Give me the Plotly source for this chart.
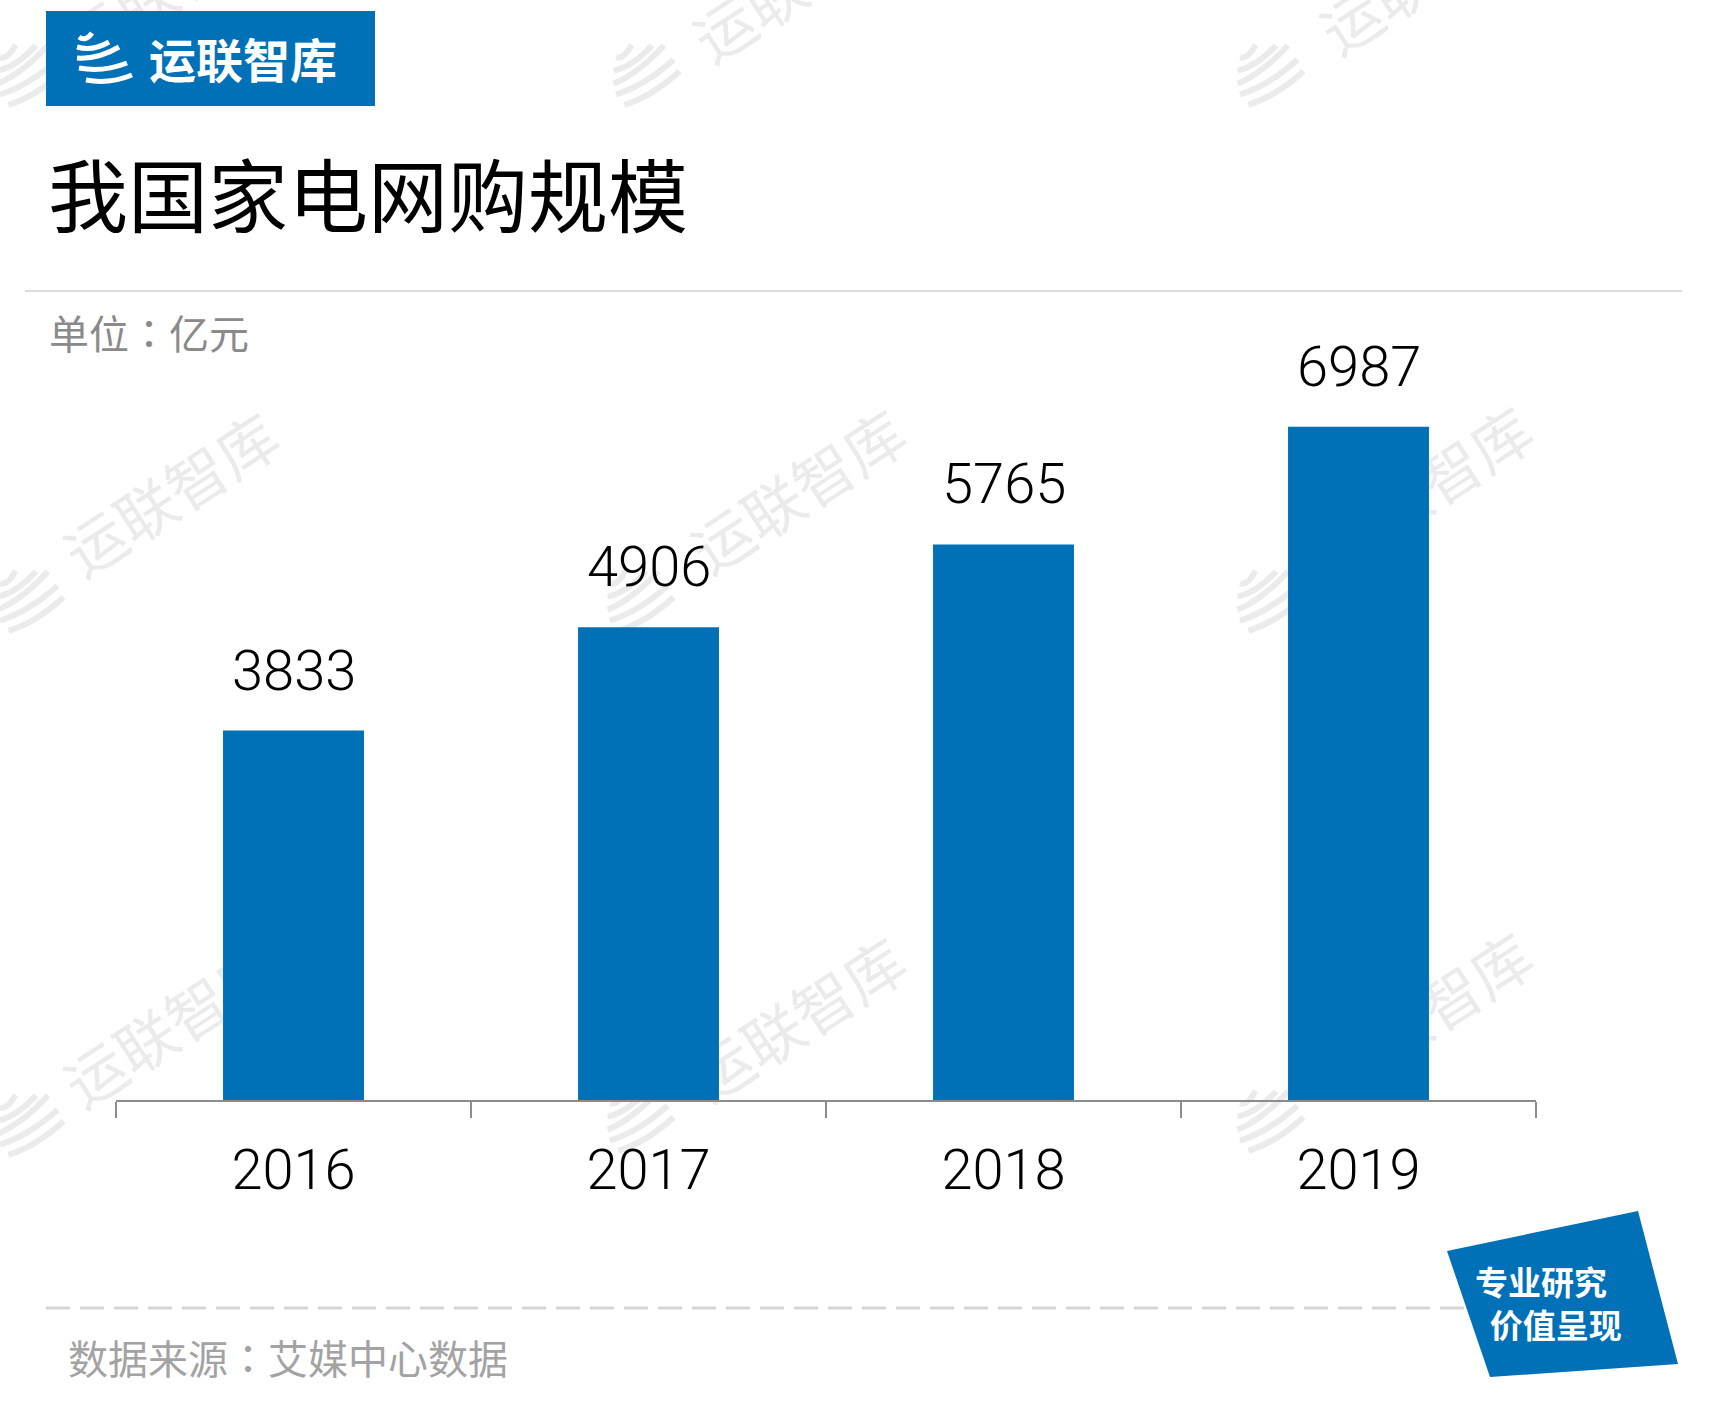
import plotly.graph_objects as go

# ---------------- data ----------------
years = ["2016", "2017", "2018", "2019"]
values = [3833, 4906, 5765, 6987]
title_text = "我国家电网购规模"
unit_parts = ["单位", "：", "亿元"]
source_parts = ["数据来源", "：", "艾媒中心数据"]
brand_text = "运联智库"
badge_lines = ["专业研究", "价值呈现"]

# ---------------- styles ----------------
BLUE = "#0071B7"
CJK = "Noto Sans CJK SC"
NUM = "Roboto, Arial"
W, H = 1716, 1406
L, R, T, B = 116, 180, 329, 306
PW, PH = W - L - R, H - T - B


def px(x):
    return (x - L) / PW


def py(y):
    return (H - B - y) / PH


def centered_colon(parts):
    return (parts[0] + "<span style=\"font-family:'Noto Sans CJK TC'\">" + parts[1]
            + "</span>" + parts[2])


fig = go.Figure()
fig.add_trace(go.Bar(x=years, y=values, marker=dict(color=BLUE, line=dict(width=0)),
                     hoverinfo="skip"))

shapes = []
annotations = []

# watermark texts (below everything)
wm_centers = [(175, -10), (804, -14), (1431, -22),
              (175, 500), (802, 497), (1429, 494),
              (175, 1031), (802, 1025), (1429, 1020)]
for cx, cy in wm_centers:
    shapes.append(dict(type="rect", xref="paper", yref="paper",
                       x0=px(cx - 150), x1=px(cx + 150), y0=py(cy + 40), y1=py(cy - 40),
                       line=dict(width=0), fillcolor="rgba(0,0,0,0)", layer="below",
                       label=dict(text=brand_text, textangle=-33,
                                  font=dict(size=60, color="#ebebeb", family=CJK))))

# swoosh icon helper
stripes = [((-25, -23), (-12, -27)), ((-27, -13), (5, -18)), ((-27, -2), (15, -13)),
           ((-25, 8), (23, 3)), ((-18, 20), (28, 15))]


def icon(cx, cy, s, color, width, layer, tilt=0.0):
    out = []
    for (a, b) in stripes:
        ax, ay = a[0], a[1] + tilt * a[0]
        bx, by = b[0], b[1] + tilt * b[0]
        x0, y0 = cx + ax * s, cy + ay * s
        x1, y1 = cx + bx * s, cy + by * s
        mx, my = (x0 + x1) / 2, (y0 + y1) / 2 + 7 * s
        path = f"M {px(x0)},{py(y0)} Q {px(mx)},{py(my)} {px(x1)},{py(y1)}"
        out.append(dict(type="path", xref="paper", yref="paper", path=path,
                        line=dict(color=color, width=width), layer=layer))
    return out


for cx, cy in [(30, 70), (646, 70), (1270, 70), (30, 596), (640, 596), (1270, 596),
               (30, 1120), (640, 1116), (1270, 1116)]:
    shapes += icon(cx, cy, 1.2, "#ebebeb", 6, "below", tilt=-0.5)

# logo box
shapes.append(dict(type="rect", xref="paper", yref="paper",
                   x0=px(46), x1=px(375), y0=py(106), y1=py(11),
                   fillcolor=BLUE, line=dict(width=0), layer="above"))
shapes += icon(104, 60, 1.0, "white", 5, "above")
annotations.append(dict(xref="paper", yref="paper", x=px(147), y=py(58), xanchor="left",
                        yanchor="middle", text=f"<b>{brand_text}</b>", showarrow=False,
                        font=dict(size=47, color="white", family=CJK)))

# title
annotations.append(dict(xref="paper", yref="paper", x=px(46), y=py(191), xanchor="left",
                        yanchor="middle", text=title_text, showarrow=False,
                        font=dict(size=80, color="black", family=CJK)))
# separator line
shapes.append(dict(type="line", xref="paper", yref="paper", x0=px(25), x1=px(1682),
                   y0=py(291), y1=py(291), line=dict(color="#dcdcdc", width=2)))
# unit
annotations.append(dict(xref="paper", yref="paper", x=px(47), y=py(332), xanchor="left",
                        yanchor="middle", text=centered_colon(unit_parts), showarrow=False,
                        font=dict(size=40, color="#8a8a8a", family=CJK)))

# value labels
for i, v in enumerate(values):
    annotations.append(dict(xref="x", yref="y", x=i, y=v, yanchor="middle", yshift=60,
                            text=str(v), showarrow=False,
                            font=dict(size=56, color="black", family=NUM, weight=300)))

# dashed line
shapes.append(dict(type="line", xref="paper", yref="paper", x0=px(46), x1=px(1465),
                   y0=py(1308), y1=py(1308),
                   line=dict(color="#d6d6d6", width=3, dash="24px,10px")))
# source
annotations.append(dict(xref="paper", yref="paper", x=px(66), y=py(1357), xanchor="left",
                        yanchor="middle", text=centered_colon(source_parts), showarrow=False,
                        font=dict(size=40, color="#a3a3a3", family=CJK)))

# badge
quad = [(1447, 1251), (1638, 1211), (1678, 1364), (1490, 1377)]
path = "M " + " L ".join(f"{px(x)},{py(y)}" for x, y in quad) + " Z"
shapes.append(dict(type="path", xref="paper", yref="paper", path=path,
                   fillcolor=BLUE, line=dict(width=0), layer="above"))
annotations.append(dict(xref="paper", yref="paper", x=px(1473), y=py(1302), xanchor="left",
                        yanchor="middle", align="left",
                        text=f"<b>{badge_lines[0]}</b><br>&nbsp;&nbsp;<b>{badge_lines[1]}</b>",
                        showarrow=False,
                        font=dict(size=33, color="white", family=CJK)))

fig.update_layout(
    width=W, height=H, margin=dict(l=L, r=R, t=T, b=B, pad=0),
    paper_bgcolor="white", plot_bgcolor="rgba(0,0,0,0)",
    bargap=0.603, showlegend=False,
    shapes=shapes, annotations=annotations,
    xaxis=dict(type="category", range=[-0.5, 3.5], showline=True, linecolor="#8c8c8c",
               linewidth=2, ticks="outside", tickson="boundaries", ticklen=16, tickwidth=2,
               tickcolor="#8c8c8c", showgrid=False, zeroline=False, fixedrange=True,
               tickfont=dict(size=56, color="black", family=NUM, weight=300),
               ticklabelstandoff=20),
    yaxis=dict(range=[0, 8000], visible=False, fixedrange=True),
)

fig.write_html("out.html", config={"displayModeBar": False},
               post_script="document.body.style.margin='0';document.body.style.overflow='hidden';")
